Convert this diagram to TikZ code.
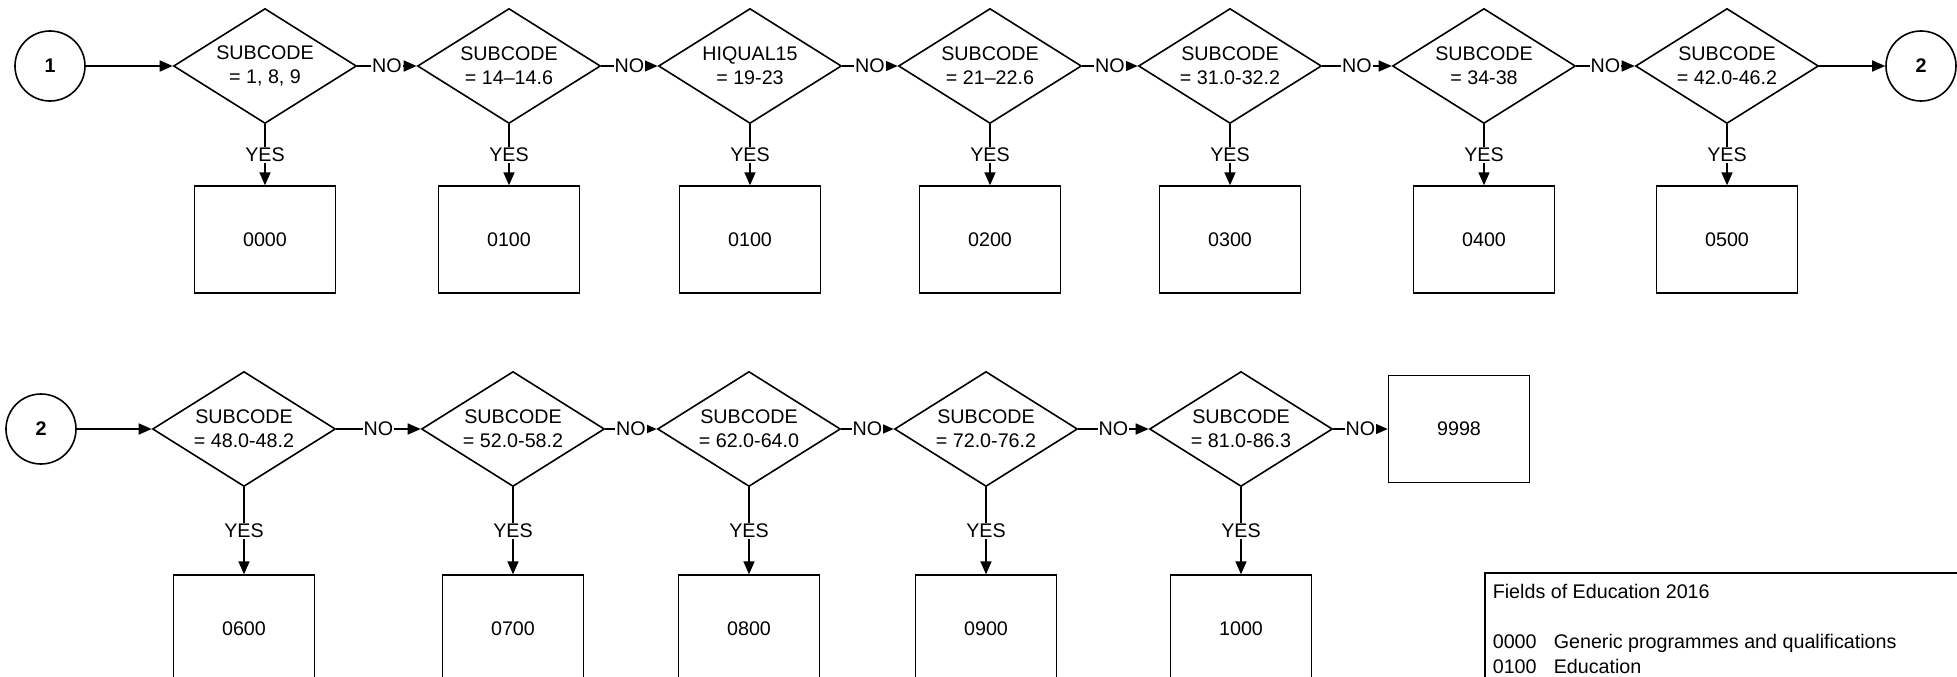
\documentclass[tikz,border=0pt]{standalone}
\usepackage{fontspec}
\setmainfont{Liberation Sans}
\usetikzlibrary{positioning,arrows.meta,shapes.geometric}
\tikzset{>={Triangle[length=13pt,width=11pt]}}

\begin{document}
\begin{tikzpicture}[x=1pt, y=-1pt, line width=1.6pt,
    font=\fontsize{19.7}{24}\selectfont,
    test/.style={diamond, draw, align=center, shape aspect=1.6, inner sep=0pt,
                 minimum width=183pt, minimum height=115pt},
    code/.style={rectangle, draw, minimum width=141pt, minimum height=107pt},
    link/.style={circle, draw, minimum size=70pt, font=\fontsize{19.7}{24}\selectfont\bfseries},
    lbl/.style={fill=white, inner sep=1pt}]
        \useasboundingbox (0,0) rectangle (1957,677);

        % first row
        \node[link] (L1) at (50,66) {1};  %entry point
        \node[test] (D1) at (265,66) {SUBCODE\\= 1, 8, 9};
        \node[test] (D2) at (509,66) {SUBCODE\\= 14--14.6};
        \node[test] (D3) at (750,66) {HIQUAL15\\= 19-23};
        \node[test] (D4) at (990,66) {SUBCODE\\= 21--22.6};
        \node[test] (D5) at (1230,66) {SUBCODE\\= 31.0-32.2};
        \node[test] (D6) at (1484,66) {SUBCODE\\= 34-38};
        \node[test] (D7) at (1727,66) {SUBCODE\\= 42.0-46.2};
        \node[link] (L2) at (1921,66) {2};

        \node[code] (C1) [below=61pt of D1] {0000};
        \node[code] (C2) [below=61pt of D2] {0100};
        \node[code] (C3) [below=61pt of D3] {0100};
        \node[code] (C4) [below=61pt of D4] {0200};
        \node[code] (C5) [below=61pt of D5] {0300};
        \node[code] (C6) [below=61pt of D6] {0400};
        \node[code] (C7) [below=61pt of D7] {0500};

        % second row
        \node[link] (L3) at (41,429) {2};
        \node[test] (D8) at (244,429) {SUBCODE\\= 48.0-48.2};
        \node[test] (D9) at (513,429) {SUBCODE\\= 52.0-58.2};
        \node[test] (D10) at (749,429) {SUBCODE\\= 62.0-64.0};
        \node[test] (D11) at (986,429) {SUBCODE\\= 72.0-76.2};
        \node[test] (D12) at (1241,429) {SUBCODE\\= 81.0-86.3};
        \node[code] (C13) at (1459,429) {9998};

        \node[code] (C8) [below=87pt of D8] {0600};
        \node[code] (C9) [below=87pt of D9] {0700};
        \node[code] (C10) [below=87pt of D10] {0800};
        \node[code] (C11) [below=87pt of D11] {0900};
        \node[code] (C12) [below=87pt of D12] {1000};

        \path[->]
        (L1) edge (D1)
        (D1) edge node[lbl] {NO} (D2)
        (D2) edge node[lbl] {NO} (D3)
        (D3) edge node[lbl] {NO} (D4)
        (D4) edge node[lbl] {NO} (D5)
        (D5) edge node[lbl] {NO} (D6)
        (D6) edge node[lbl] {NO} (D7)
        (D7) edge (L2)
        (D1) edge node[lbl] {YES} (C1)
        (D2) edge node[lbl] {YES} (C2)
        (D3) edge node[lbl] {YES} (C3)
        (D4) edge node[lbl] {YES} (C4)
        (D5) edge node[lbl] {YES} (C5)
        (D6) edge node[lbl] {YES} (C6)
        (D7) edge node[lbl] {YES} (C7);

        \path[->]
        (L3) edge (D8)
        (D8) edge node[lbl] {NO} (D9)
        (D9) edge node[lbl] {NO} (D10)
        (D10) edge node[lbl] {NO} (D11)
        (D11) edge node[lbl] {NO} (D12)
        (D12) edge node[lbl] {NO} (C13)
        (D8) edge node[lbl] {YES} (C8)
        (D9) edge node[lbl] {YES} (C9)
        (D10) edge node[lbl] {YES} (C10)
        (D11) edge node[lbl] {YES} (C11)
        (D12) edge node[lbl] {YES} (C12);

        % key to the codes
        \draw (1485,573) rectangle (1990,760);
        \node[anchor=north west, inner sep=0pt, align=left,
              font=\fontsize{19.7}{25}\selectfont] (key) at (1492,583)
          {Fields of Education 2016\\[25pt]
           \makebox[61pt][l]{0000}Generic programmes and qualifications\\
           \makebox[61pt][l]{0100}Education};
      \end{tikzpicture}
\end{document}
